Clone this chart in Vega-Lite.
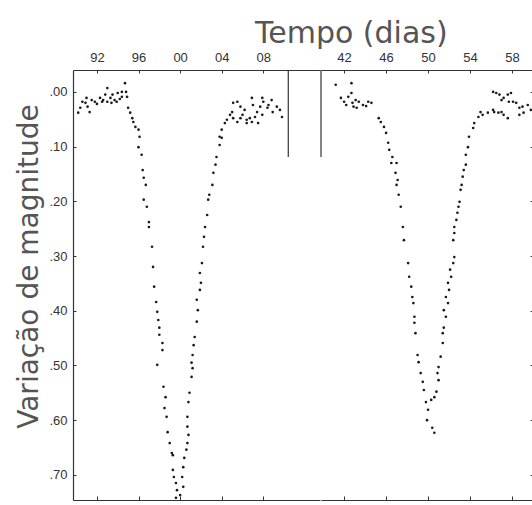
{
  "$schema": "https://vega.github.io/schema/vega-lite/v6.json",
  "background": "white",
  "padding": {"left": 15, "top": 19, "right": 0, "bottom": 0},
  "title": {"text": "Tempo  (dias)", "anchor": "start", "dx": 240, "font": "DejaVu Sans", "fontSize": 30, "fontWeight": "normal", "color": "#555555", "offset": 2},
  "spacing": 0,
  "config": {
    "view": {"stroke": null},
    "axis": {"grid": false, "domainColor": "#333333", "tickColor": "#333333", "labelColor": "#333333", "labelFont": "Liberation Sans", "labelFontSize": 13, "domainWidth": 1.2}
  },
  "datasets": {
    "obs": [
      {"panel": "A", "t": 90.2, "mag": 0.038}, {"panel": "A", "t": 90.6, "mag": 0.018}, {"panel": "A", "t": 90.9, "mag": 0.020}, {"panel": "A", "t": 91.1, "mag": 0.027},
      {"panel": "A", "t": 91.3, "mag": 0.037}, {"panel": "A", "t": 91.8, "mag": 0.018}, {"panel": "A", "t": 92.3, "mag": 0.011}, {"panel": "A", "t": 92.6, "mag": 0.015},
      {"panel": "A", "t": 93.0, "mag": 0.018}, {"panel": "A", "t": 93.0, "mag": -0.007}, {"panel": "A", "t": 93.3, "mag": 0.011}, {"panel": "A", "t": 93.5, "mag": 0.005},
      {"panel": "A", "t": 93.7, "mag": 0.015}, {"panel": "A", "t": 94.0, "mag": 0.002}, {"panel": "A", "t": 94.4, "mag": 0.000}, {"panel": "A", "t": 94.7, "mag": -0.016},
      {"panel": "A", "t": 94.4, "mag": 0.009}, {"panel": "A", "t": 93.9, "mag": 0.018}, {"panel": "A", "t": 92.5, "mag": 0.018}, {"panel": "A", "t": 94.9, "mag": 0.009},
      {"panel": "A", "t": 90.4, "mag": 0.029}, {"panel": "A", "t": 91.5, "mag": 0.015}, {"panel": "A", "t": 92.0, "mag": 0.022}, {"panel": "A", "t": 93.4, "mag": 0.020},
      {"panel": "A", "t": 94.2, "mag": 0.013}, {"panel": "A", "t": 94.8, "mag": 0.000}, {"panel": "A", "t": 92.8, "mag": 0.005}, {"panel": "A", "t": 91.0, "mag": 0.011},
      {"panel": "A", "t": 95.0, "mag": 0.029}, {"panel": "A", "t": 95.2, "mag": 0.038}, {"panel": "A", "t": 95.4, "mag": 0.048}, {"panel": "A", "t": 95.5, "mag": 0.055},
      {"panel": "A", "t": 95.7, "mag": 0.064}, {"panel": "A", "t": 96.0, "mag": 0.069}, {"panel": "A", "t": 96.1, "mag": 0.082}, {"panel": "A", "t": 96.0, "mag": 0.101},
      {"panel": "A", "t": 96.3, "mag": 0.115}, {"panel": "A", "t": 96.4, "mag": 0.143}, {"panel": "A", "t": 96.5, "mag": 0.157}, {"panel": "A", "t": 96.7, "mag": 0.170},
      {"panel": "A", "t": 96.5, "mag": 0.197}, {"panel": "A", "t": 96.8, "mag": 0.210}, {"panel": "A", "t": 97.0, "mag": 0.238}, {"panel": "A", "t": 97.0, "mag": 0.247},
      {"panel": "A", "t": 97.3, "mag": 0.283}, {"panel": "A", "t": 97.4, "mag": 0.320}, {"panel": "A", "t": 97.5, "mag": 0.356}, {"panel": "A", "t": 97.7, "mag": 0.384},
      {"panel": "A", "t": 97.8, "mag": 0.402}, {"panel": "A", "t": 97.9, "mag": 0.417}, {"panel": "A", "t": 98.0, "mag": 0.431}, {"panel": "A", "t": 98.0, "mag": 0.444},
      {"panel": "A", "t": 98.3, "mag": 0.459}, {"panel": "A", "t": 98.3, "mag": 0.472}, {"panel": "A", "t": 97.8, "mag": 0.499}, {"panel": "A", "t": 98.4, "mag": 0.539},
      {"panel": "A", "t": 98.6, "mag": 0.558}, {"panel": "A", "t": 98.5, "mag": 0.578}, {"panel": "A", "t": 98.7, "mag": 0.594}, {"panel": "A", "t": 98.8, "mag": 0.622},
      {"panel": "A", "t": 99.0, "mag": 0.642}, {"panel": "A", "t": 99.2, "mag": 0.660}, {"panel": "A", "t": 99.3, "mag": 0.664}, {"panel": "A", "t": 99.3, "mag": 0.691},
      {"panel": "A", "t": 99.4, "mag": 0.704}, {"panel": "A", "t": 99.6, "mag": 0.715}, {"panel": "A", "t": 99.7, "mag": 0.728}, {"panel": "A", "t": 100.0, "mag": 0.737},
      {"panel": "A", "t": 99.6, "mag": 0.742},
      {"panel": "A", "t": 100.3, "mag": 0.722}, {"panel": "A", "t": 100.2, "mag": 0.704}, {"panel": "A", "t": 100.3, "mag": 0.686}, {"panel": "A", "t": 100.4, "mag": 0.669},
      {"panel": "A", "t": 100.6, "mag": 0.654}, {"panel": "A", "t": 100.7, "mag": 0.642}, {"panel": "A", "t": 100.8, "mag": 0.627}, {"panel": "A", "t": 100.7, "mag": 0.612},
      {"panel": "A", "t": 100.7, "mag": 0.594}, {"panel": "A", "t": 100.8, "mag": 0.567}, {"panel": "A", "t": 100.9, "mag": 0.550}, {"panel": "A", "t": 101.1, "mag": 0.521},
      {"panel": "A", "t": 101.2, "mag": 0.505}, {"panel": "A", "t": 101.1, "mag": 0.495}, {"panel": "A", "t": 101.2, "mag": 0.481}, {"panel": "A", "t": 101.3, "mag": 0.463},
      {"panel": "A", "t": 101.4, "mag": 0.448}, {"panel": "A", "t": 101.6, "mag": 0.420}, {"panel": "A", "t": 101.7, "mag": 0.399}, {"panel": "A", "t": 101.6, "mag": 0.380},
      {"panel": "A", "t": 101.9, "mag": 0.362}, {"panel": "A", "t": 102.0, "mag": 0.349}, {"panel": "A", "t": 101.9, "mag": 0.331}, {"panel": "A", "t": 102.1, "mag": 0.313},
      {"panel": "A", "t": 102.2, "mag": 0.283}, {"panel": "A", "t": 102.3, "mag": 0.265}, {"panel": "A", "t": 102.4, "mag": 0.247}, {"panel": "A", "t": 102.6, "mag": 0.225},
      {"panel": "A", "t": 102.7, "mag": 0.197}, {"panel": "A", "t": 102.8, "mag": 0.188}, {"panel": "A", "t": 103.1, "mag": 0.170}, {"panel": "A", "t": 103.2, "mag": 0.148},
      {"panel": "A", "t": 103.4, "mag": 0.133}, {"panel": "A", "t": 103.5, "mag": 0.119}, {"panel": "A", "t": 103.8, "mag": 0.097}, {"panel": "A", "t": 104.0, "mag": 0.084},
      {"panel": "A", "t": 103.8, "mag": 0.082}, {"panel": "A", "t": 104.0, "mag": 0.069}, {"panel": "A", "t": 104.3, "mag": 0.057}, {"panel": "A", "t": 104.5, "mag": 0.051},
      {"panel": "A", "t": 104.8, "mag": 0.042}, {"panel": "A", "t": 105.0, "mag": 0.037}, {"panel": "A", "t": 105.1, "mag": 0.020}, {"panel": "A", "t": 105.5, "mag": 0.018},
      {"panel": "A", "t": 105.8, "mag": 0.027}, {"panel": "A", "t": 106.0, "mag": 0.042}, {"panel": "A", "t": 106.2, "mag": 0.033}, {"panel": "A", "t": 106.4, "mag": 0.051},
      {"panel": "A", "t": 106.7, "mag": 0.048}, {"panel": "A", "t": 106.9, "mag": 0.011}, {"panel": "A", "t": 107.0, "mag": 0.024}, {"panel": "A", "t": 107.4, "mag": 0.037},
      {"panel": "A", "t": 107.7, "mag": 0.027}, {"panel": "A", "t": 107.9, "mag": 0.011}, {"panel": "A", "t": 108.0, "mag": 0.018}, {"panel": "A", "t": 108.4, "mag": 0.029},
      {"panel": "A", "t": 108.5, "mag": 0.024}, {"panel": "A", "t": 108.8, "mag": 0.015}, {"panel": "A", "t": 108.9, "mag": 0.037}, {"panel": "A", "t": 109.3, "mag": 0.027},
      {"panel": "A", "t": 109.6, "mag": 0.033}, {"panel": "A", "t": 109.8, "mag": 0.046}, {"panel": "A", "t": 105.8, "mag": 0.048}, {"panel": "A", "t": 107.2, "mag": 0.046},
      {"panel": "A", "t": 107.9, "mag": 0.042}, {"panel": "A", "t": 107.5, "mag": 0.057}, {"panel": "A", "t": 105.1, "mag": 0.048}, {"panel": "A", "t": 105.5, "mag": 0.055},
      {"panel": "A", "t": 106.4, "mag": 0.057}, {"panel": "A", "t": 106.9, "mag": 0.055},
      {"panel": "B", "t": 41.2, "mag": -0.013}, {"panel": "B", "t": 42.7, "mag": -0.016}, {"panel": "B", "t": 41.7, "mag": 0.011}, {"panel": "B", "t": 42.0, "mag": 0.018},
      {"panel": "B", "t": 42.4, "mag": 0.009}, {"panel": "B", "t": 42.7, "mag": 0.002}, {"panel": "B", "t": 42.8, "mag": 0.020}, {"panel": "B", "t": 42.9, "mag": 0.027},
      {"panel": "B", "t": 43.1, "mag": 0.015}, {"panel": "B", "t": 43.4, "mag": 0.018}, {"panel": "B", "t": 43.8, "mag": 0.024}, {"panel": "B", "t": 44.3, "mag": 0.018},
      {"panel": "B", "t": 44.6, "mag": 0.020}, {"panel": "B", "t": 42.2, "mag": 0.024}, {"panel": "B", "t": 43.2, "mag": 0.029}, {"panel": "B", "t": 44.1, "mag": 0.026},
      {"panel": "B", "t": 45.3, "mag": 0.048}, {"panel": "B", "t": 45.5, "mag": 0.055}, {"panel": "B", "t": 45.8, "mag": 0.064}, {"panel": "B", "t": 46.0, "mag": 0.075},
      {"panel": "B", "t": 46.2, "mag": 0.093}, {"panel": "B", "t": 46.3, "mag": 0.106}, {"panel": "B", "t": 46.6, "mag": 0.119}, {"panel": "B", "t": 46.5, "mag": 0.130},
      {"panel": "B", "t": 47.0, "mag": 0.130}, {"panel": "B", "t": 46.9, "mag": 0.148}, {"panel": "B", "t": 47.1, "mag": 0.161}, {"panel": "B", "t": 47.0, "mag": 0.170},
      {"panel": "B", "t": 47.2, "mag": 0.188}, {"panel": "B", "t": 47.4, "mag": 0.210}, {"panel": "B", "t": 47.6, "mag": 0.247}, {"panel": "B", "t": 47.7, "mag": 0.271},
      {"panel": "B", "t": 48.1, "mag": 0.313}, {"panel": "B", "t": 48.2, "mag": 0.338}, {"panel": "B", "t": 48.4, "mag": 0.356}, {"panel": "B", "t": 48.5, "mag": 0.375},
      {"panel": "B", "t": 48.6, "mag": 0.386}, {"panel": "B", "t": 48.7, "mag": 0.411}, {"panel": "B", "t": 48.7, "mag": 0.422}, {"panel": "B", "t": 48.8, "mag": 0.441},
      {"panel": "B", "t": 49.0, "mag": 0.481}, {"panel": "B", "t": 49.1, "mag": 0.494}, {"panel": "B", "t": 49.3, "mag": 0.514}, {"panel": "B", "t": 49.5, "mag": 0.530},
      {"panel": "B", "t": 49.6, "mag": 0.545}, {"panel": "B", "t": 49.8, "mag": 0.567}, {"panel": "B", "t": 50.0, "mag": 0.581}, {"panel": "B", "t": 49.9, "mag": 0.600},
      {"panel": "B", "t": 50.4, "mag": 0.614}, {"panel": "B", "t": 50.6, "mag": 0.623},
      {"panel": "B", "t": 50.3, "mag": 0.563}, {"panel": "B", "t": 50.6, "mag": 0.558}, {"panel": "B", "t": 50.8, "mag": 0.548}, {"panel": "B", "t": 51.0, "mag": 0.527},
      {"panel": "B", "t": 50.9, "mag": 0.514}, {"panel": "B", "t": 51.0, "mag": 0.503}, {"panel": "B", "t": 51.2, "mag": 0.484}, {"panel": "B", "t": 51.4, "mag": 0.459},
      {"panel": "B", "t": 51.4, "mag": 0.441}, {"panel": "B", "t": 51.5, "mag": 0.431}, {"panel": "B", "t": 51.7, "mag": 0.411}, {"panel": "B", "t": 51.5, "mag": 0.399},
      {"panel": "B", "t": 51.9, "mag": 0.386}, {"panel": "B", "t": 51.7, "mag": 0.375}, {"panel": "B", "t": 52.0, "mag": 0.362}, {"panel": "B", "t": 51.9, "mag": 0.349},
      {"panel": "B", "t": 52.2, "mag": 0.338}, {"panel": "B", "t": 52.1, "mag": 0.325}, {"panel": "B", "t": 52.4, "mag": 0.313}, {"panel": "B", "t": 52.5, "mag": 0.302},
      {"panel": "B", "t": 52.4, "mag": 0.271}, {"panel": "B", "t": 52.5, "mag": 0.258}, {"panel": "B", "t": 52.5, "mag": 0.247}, {"panel": "B", "t": 52.7, "mag": 0.234},
      {"panel": "B", "t": 52.8, "mag": 0.221}, {"panel": "B", "t": 52.9, "mag": 0.210}, {"panel": "B", "t": 53.0, "mag": 0.201}, {"panel": "B", "t": 53.1, "mag": 0.179},
      {"panel": "B", "t": 53.2, "mag": 0.170}, {"panel": "B", "t": 53.3, "mag": 0.155}, {"panel": "B", "t": 53.4, "mag": 0.143}, {"panel": "B", "t": 53.6, "mag": 0.133},
      {"panel": "B", "t": 53.6, "mag": 0.115}, {"panel": "B", "t": 53.8, "mag": 0.101}, {"panel": "B", "t": 53.9, "mag": 0.082},
      {"panel": "B", "t": 54.3, "mag": 0.066}, {"panel": "B", "t": 54.4, "mag": 0.057}, {"panel": "B", "t": 54.8, "mag": 0.046}, {"panel": "B", "t": 55.0, "mag": 0.037},
      {"panel": "B", "t": 55.2, "mag": 0.042}, {"panel": "B", "t": 55.7, "mag": 0.038}, {"panel": "B", "t": 56.2, "mag": 0.000}, {"panel": "B", "t": 56.5, "mag": 0.002},
      {"panel": "B", "t": 56.8, "mag": 0.005}, {"panel": "B", "t": 57.0, "mag": 0.015}, {"panel": "B", "t": 57.2, "mag": 0.011}, {"panel": "B", "t": 57.6, "mag": 0.005},
      {"panel": "B", "t": 57.7, "mag": 0.018}, {"panel": "B", "t": 57.9, "mag": 0.002}, {"panel": "B", "t": 58.1, "mag": 0.018}, {"panel": "B", "t": 58.4, "mag": 0.020},
      {"panel": "B", "t": 58.7, "mag": 0.029}, {"panel": "B", "t": 59.0, "mag": 0.027}, {"panel": "B", "t": 59.5, "mag": 0.024}, {"panel": "B", "t": 59.8, "mag": 0.033},
      {"panel": "B", "t": 56.3, "mag": 0.037}, {"panel": "B", "t": 56.7, "mag": 0.038}, {"panel": "B", "t": 57.0, "mag": 0.037}, {"panel": "B", "t": 57.2, "mag": 0.042},
      {"panel": "B", "t": 57.6, "mag": 0.048}, {"panel": "B", "t": 56.2, "mag": 0.033}, {"panel": "B", "t": 58.7, "mag": 0.042}, {"panel": "B", "t": 59.1, "mag": 0.038}
    ]
  },
  "hconcat": [
    {
      "width": 247,
      "height": 430,
      "layer": [
        {
          "data": {"name": "obs"},
          "transform": [{"filter": "datum.panel === 'A'"}],
          "mark": {"type": "circle", "size": 7, "color": "#1a1a1a", "opacity": 1},
          "encoding": {
            "x": {"field": "t", "type": "quantitative", "scale": {"domain": [89.7, 113.45], "nice": false, "zero": false},
              "axis": {"orient": "top", "values": [92, 96, 100, 104, 108], "labelExpr": "datum.value >= 100 ? '0' + (datum.value - 100) : '' + datum.value", "title": null, "tickSize": -3, "labelPadding": 9}},
            "y": {"field": "mag", "type": "quantitative", "scale": {"domain": [-0.04, 0.746], "reverse": true, "nice": false, "zero": false},
              "axis": {"values": [0, 0.1, 0.2, 0.3, 0.4, 0.5, 0.6, 0.7], "labelExpr": "replace(format(datum.value, '.2f'), '0.', '.')", "tickSize": -3, "labelPadding": 9,
                "title": "Variação de magnitude", "titleFont": "DejaVu Sans", "titleFontSize": 28, "titleFontWeight": "normal", "titleColor": "#555555",
                "titleAngle": -90, "titleX": -44, "titleY": 196, "titleAlign": "center", "titleBaseline": "middle"}}
          }
        },
        {
          "data": {"values": [{"t": 110.4, "mag": -0.04, "bot": 0.119}]},
          "mark": {"type": "rule", "color": "#333333", "strokeWidth": 1.2},
          "encoding": {
            "x": {"field": "t", "type": "quantitative", "axis": {"orient": "bottom", "values": [92, 96, 100, 104, 108], "labels": false, "title": null, "tickSize": -4}},
            "y": {"field": "mag", "type": "quantitative",
              "axis": {"values": [0, 0.1, 0.2, 0.3, 0.4, 0.5, 0.6, 0.7], "labelExpr": "replace(format(datum.value, '.2f'), '0.', '.')", "tickSize": -3, "labelPadding": 9,
                "title": "Variação de magnitude", "titleFont": "DejaVu Sans", "titleFontSize": 28, "titleFontWeight": "normal", "titleColor": "#555555",
                "titleAngle": -90, "titleX": -44, "titleY": 196, "titleAlign": "center", "titleBaseline": "middle"}},
            "y2": {"field": "bot"}
          }
        }
      ],
      "resolve": {"axis": {"x": "independent"}}
    },
    {
      "width": 212,
      "height": 430,
      "layer": [
        {
          "data": {"name": "obs"},
          "transform": [{"filter": "datum.panel === 'B'"}],
          "mark": {"type": "circle", "size": 7, "color": "#1a1a1a", "opacity": 1},
          "encoding": {
            "x": {"field": "t", "type": "quantitative", "scale": {"domain": [39.8, 60.0], "nice": false, "zero": false},
              "axis": {"orient": "top", "values": [42, 46, 50, 54, 58], "format": "d", "title": null, "tickSize": -3, "labelPadding": 9}},
            "y": {"field": "mag", "type": "quantitative", "scale": {"domain": [-0.04, 0.746], "reverse": true, "nice": false, "zero": false},
              "axis": {"orient": "right", "values": [0, 0.1, 0.2, 0.3, 0.4, 0.5, 0.6, 0.7], "labels": false, "tickSize": -3, "title": null}}
          }
        },
        {
          "data": {"values": [{"t": 39.8, "mag": -0.04, "bot": 0.119}]},
          "mark": {"type": "rule", "color": "#333333", "strokeWidth": 1.2},
          "encoding": {
            "x": {"field": "t", "type": "quantitative", "axis": {"orient": "bottom", "values": [42, 46, 50, 54, 58], "labels": false, "title": null, "tickSize": -4}},
            "y": {"field": "mag", "type": "quantitative",
              "axis": {"orient": "right", "values": [0, 0.1, 0.2, 0.3, 0.4, 0.5, 0.6, 0.7], "labels": false, "tickSize": -3, "title": null}},
            "y2": {"field": "bot"}
          }
        }
      ],
      "resolve": {"axis": {"x": "independent"}}
    }
  ]
}
